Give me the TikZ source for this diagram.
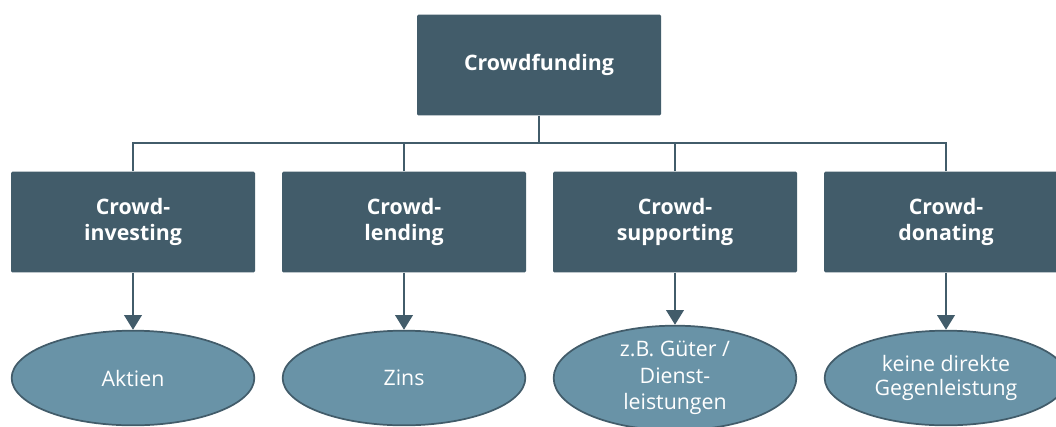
\documentclass[tikz,border=0pt]{standalone}
\usepackage{fontspec}
\setmainfont{Open Sans}
\usetikzlibrary{positioning, arrows.meta, shapes}
\definecolor{boxblue}{HTML}{425C6A}
\definecolor{ovalblue}{HTML}{6993A7}
\tikzstyle{block}=[fill=boxblue,rectangle,rounded corners=1pt,minimum width=183pt,minimum height=75.5pt,text=white,font=\fontsize{16}{19}\selectfont\bfseries,align=center]
\tikzstyle{oval}=[draw=boxblue,line width=1.3pt,fill=ovalblue,ellipse,inner sep=0pt,minimum width=182pt,minimum height=71pt,text=white,font=\fontsize{16}{18}\selectfont,align=center]
\tikzstyle{line}=[draw=boxblue,line width=1.9pt]

\begin{document}
\begin{tikzpicture}[x=0.75pt, y=-0.75pt, >={Triangle[width=13pt,length=11pt]}, node distance=203.25pt]
            \useasboundingbox (0,0) rectangle (1056,426);
            \node[block] (crowd) at (539,65) {Crowdfunding};
            \node[block] (investing) at (133,222) {Crowd-\\investing};
            \node[block, right of=investing] (lending) {Crowd-\\lending};
            \node[block, right of=lending] (supporting) {Crowd-\\supporting};
            \node[block, right of=supporting] (donating) {Crowd-\\donating};
            \node[oval, below of=investing, node distance=117pt] (aktien) {Aktien};
            \node[oval, below of=lending, node distance=117pt] (zins) {Zins};
            \node[oval, below of=supporting, node distance=117pt, font=\fontsize{16}{20}\selectfont] (gueter) {z.B. Güter /\\Dienst-\\leistungen};
            \node[oval, below of=donating, node distance=117pt] (keine) {keine direkte\\Gegenleistung};
            \coordinate (bus) at (539,143);
            \draw[line] (crowd) -- (bus);
            \foreach \n in {investing, lending, supporting, donating}
                \draw[line] (\n.north) |- (bus);
            \draw[line, ->] (investing) -- (aktien);
            \draw[line, ->] (lending) -- (zins);
            \draw[line, ->] (supporting) -- (gueter);
            \draw[line, ->] (donating) -- (keine);
        \end{tikzpicture}
\end{document}
